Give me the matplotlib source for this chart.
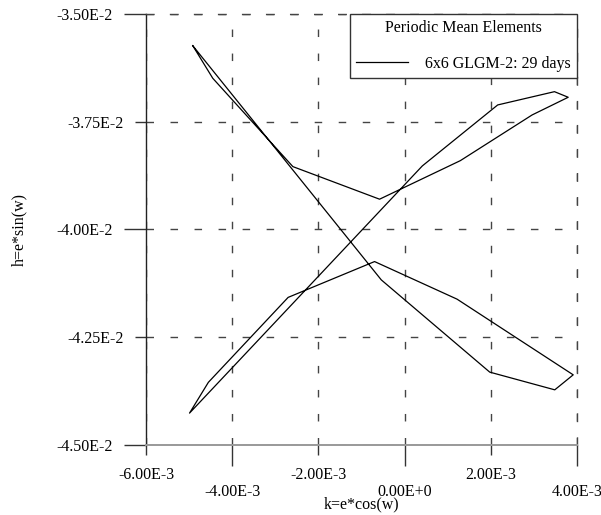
import matplotlib
matplotlib.use("Agg")
import matplotlib.pyplot as plt

plt.rcParams["font.family"] = ["Liberation Serif", "DejaVu Serif"]
plt.rcParams["font.size"] = 11.5

# periodic mean elements, 29 day arc (closed loop)
k_vals = [-4.915e-3, -0.541e-3, 1.975e-3, 3.484e-3, 3.912e-3, 1.217e-3,
          -0.697e-3, -2.702e-3, -4.553e-3, -4.990e-3, 0.411e-3, 2.160e-3,
          3.477e-3, 3.796e-3, 2.959e-3, 1.294e-3, -0.581e-3, -2.592e-3,
          -4.451e-3, -4.915e-3]
h_vals = [-3.5735e-2, -4.1169e-2, -4.3309e-2, -4.3720e-2, -4.3372e-2, -4.1616e-2,
          -4.0744e-2, -4.1575e-2, -4.3546e-2, -4.4260e-2, -3.8525e-2, -3.7110e-2,
          -3.6802e-2, -3.6932e-2, -3.7342e-2, -3.8402e-2, -3.9297e-2, -3.8541e-2,
          -3.6491e-2, -3.5735e-2]

x_major = [-4e-3, 0.0, 4e-3]
x_major_labels = ["-4.00E-3", "0.00E+0", "4.00E-3"]
x_minor = [-6e-3, -2e-3, 2e-3]
x_minor_labels = ["-6.00E-3", "-2.00E-3", "2.00E-3"]
y_major = [-3.5e-2, -4.0e-2, -4.5e-2]
y_major_labels = ["-3.50E-2", "-4.00E-2", "-4.50E-2"]
y_minor = [-3.75e-2, -4.25e-2]
y_minor_labels = ["-3.75E-2", "-4.25E-2"]

fig = plt.figure(figsize=(6.01, 5.15), dpi=100)
ax = fig.add_axes([146 / 601, 1 - 445 / 515, 431 / 601, 431 / 515])

ax.plot(k_vals, h_vals, color="black", lw=0.9, label="6x6 GLGM-2: 29 days", zorder=3)

ax.set_xlim(-6e-3, 4e-3)
ax.set_ylim(-4.5e-2, -3.5e-2)

ax.set_xticks(x_major, labels=x_major_labels)
ax.set_xticks(x_minor, labels=x_minor_labels, minor=True)
ax.set_yticks(y_major, labels=y_major_labels)
ax.set_yticks(y_minor, labels=y_minor_labels, minor=True)

ax.tick_params(axis="x", which="major", direction="out", length=15, width=1, color="#333333", pad=13)
ax.tick_params(axis="x", which="minor", direction="out", length=7.2, width=1, color="#333333", pad=8.5)
ax.tick_params(axis="y", which="major", direction="out", length=15.8, width=1, color="#333333", pad=8)
ax.tick_params(axis="y", which="minor", direction="out", length=7.9, width=1, color="#333333", pad=8)

dash = (0, (5.4, 11.9))
ax.grid(True, which="both", color="#444444", lw=1, linestyle=dash, zorder=1)
ax.set_axisbelow(True)

ax.spines["left"].set_color("#222222")
ax.spines["left"].set_linewidth(1)
ax.spines["bottom"].set_color("#999999")
ax.spines["bottom"].set_linewidth(1.4)
for side in ["top", "right"]:
    ax.spines[side].set_color("#444444")
    ax.spines[side].set_linestyle(dash)
    ax.spines[side].set_linewidth(1)

ax.set_xlabel("k=e*cos(w)")
ax.set_ylabel("h=e*sin(w)")
ax.xaxis.set_label_coords(0.5, -0.12)
ax.yaxis.set_label_coords(-0.275, 0.5)

leg = ax.legend(loc="upper right", bbox_to_anchor=(1, 1), borderaxespad=0,
                title="Periodic Mean Elements", title_fontsize=11.5, fontsize=11.5,
                fancybox=False, framealpha=1, edgecolor="#333333",
                borderpad=0.38, handlelength=3.3, handletextpad=1.05,
                labelspacing=1.25)
leg.get_frame().set_linewidth(1)
leg.set_zorder(5)

fig.savefig("out.png", dpi=100)
